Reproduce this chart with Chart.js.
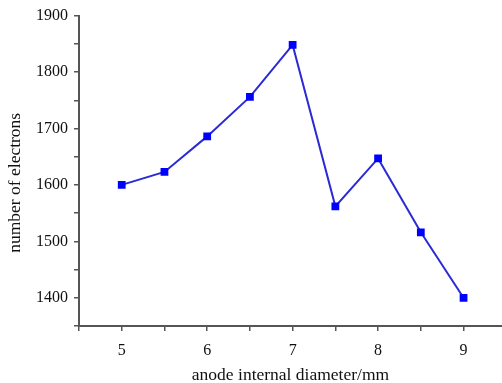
<!DOCTYPE html>
<html>
<head>
<meta charset="utf-8">
<script src="https://cdn.jsdelivr.net/npm/chart.js@4/dist/chart.umd.min.js"></script>
<style>
  html, body { margin: 0; padding: 0; background: #fff; }
  #wrap { width: 502px; height: 383px; }
</style>
</head>
<body>
<div id="wrap"><canvas id="myChart"></canvas></div>
<script>
'use strict';

// anode internal diameter (mm) and number of electrons
let diameter = [5, 5.5, 6, 6.5, 7, 7.5, 8, 8.5, 9];
let electrons = [1600, 1623, 1686, 1756, 1848, 1562, 1647, 1516, 1400];
let xTitle = 'anode internal diameter/mm';
let yTitle = 'number of electrons';

let axisColor = '#555555';
let serif = "'Liberation Serif', 'Times New Roman', serif";

let points = [];
for (let i = 0; i < diameter.length; i++) {
  points.push({ x: diameter[i], y: electrons[i] });
}

// axis titles drawn by hand so they sit where the original has them
const axisTitles = {
  id: 'axisTitles',
  afterDraw(chart) {
    let ctx = chart.ctx;
    let area = chart.chartArea;
    ctx.save();
    ctx.fillStyle = '#111';
    ctx.font = '17.5px ' + serif;
    ctx.textAlign = 'center';
    ctx.textBaseline = 'middle';
    ctx.fillText(xTitle, (area.left + area.right) / 2, 375);
    ctx.translate(15, (area.top + area.bottom) / 2 + 12);
    ctx.rotate(-Math.PI / 2);
    ctx.fillText(yTitle, 0, 0);
    ctx.restore();
  }
};

const data = {
  datasets: [{
    label: 'electrons',
    data: points,
    borderColor: '#2b2bd6',
    backgroundColor: '#0000ff',
    borderWidth: 2,
    pointStyle: 'rect',
    pointRadius: 5.5,
    pointBorderWidth: 0,
    tension: 0
  }]
};

const config = {
  type: 'line',
  data: data,
  plugins: [axisTitles],
  options: {
    responsive: true,
    maintainAspectRatio: false,
    animation: false,
    layout: { autoPadding: false, padding: { top: 14, right: 0, left: 0, bottom: 0 } },
    plugins: { legend: { display: false }, tooltip: { enabled: false } },
    scales: {
      x: {
        type: 'linear',
        min: 4.5,
        max: 9.45,
        afterFit: function (scale) {
          scale.height = 57;
          scale.paddingLeft = 0;
          scale.paddingRight = 0;
        },
        border: { color: axisColor, width: 2 },
        grid: { drawOnChartArea: false, color: axisColor, tickLength: 5, lineWidth: 1.5 },
        ticks: {
          stepSize: 0.5,
          includeBounds: false,
          color: '#111',
          padding: 10,
          maxRotation: 0,
          autoSkip: false,
          font: { family: serif, size: 16 },
          callback: function (v) { return Number.isInteger(v) ? String(v) : ''; }
        }
      },
      y: {
        min: 1350,
        max: 1900,
        afterFit: function (scale) { scale.width = 79; },
        border: { color: axisColor, width: 2 },
        grid: { drawOnChartArea: false, color: axisColor, tickLength: 5, lineWidth: 1.5 },
        ticks: {
          stepSize: 50,
          color: '#111',
          padding: 6,
          autoSkip: false,
          font: { family: serif, size: 16 },
          callback: function (v) { return v % 100 === 0 ? String(v) : ''; }
        }
      }
    }
  }
};

const myChart = new Chart(document.getElementById('myChart'), config);
</script>
</body>
</html>
